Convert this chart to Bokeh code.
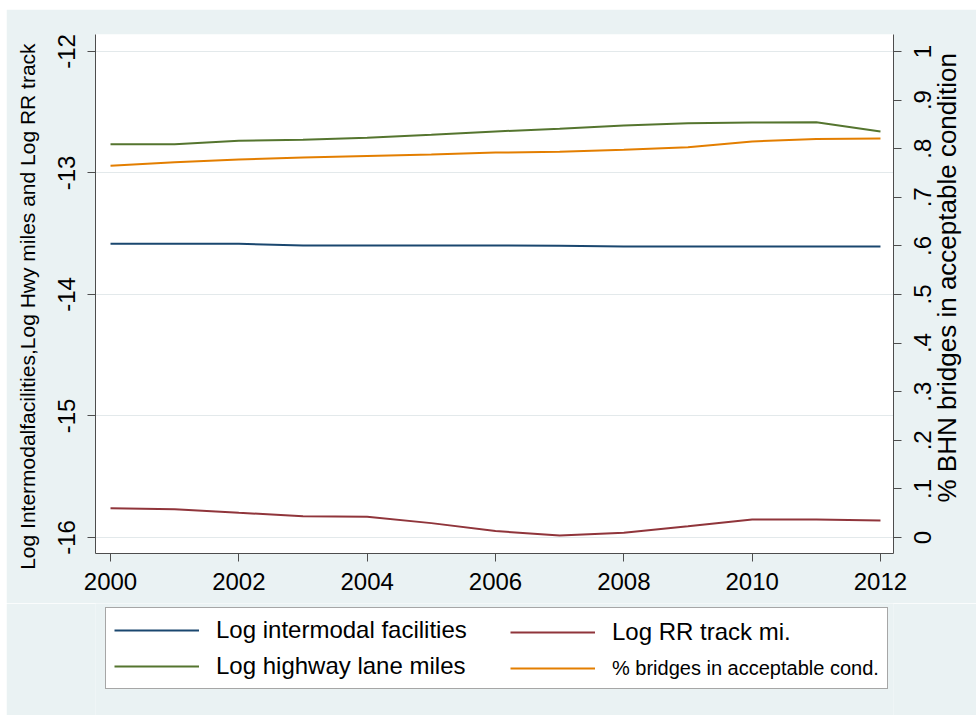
import math

from bokeh.embed import file_html
from bokeh.layouts import column, row
from bokeh.models import (CustomJSTickFormatter, FixedTicker, Legend, LegendItem,
                          LinearAxis, Range1d, Spacer)
from bokeh.plotting import figure
from bokeh.resources import INLINE

# Annual series, 2000-2012
years = [2000, 2001, 2002, 2003, 2004, 2005, 2006, 2007, 2008, 2009, 2010, 2011, 2012]
log_intermodal = [-13.583, -13.583, -13.583, -13.597, -13.597, -13.597, -13.597,
                  -13.598, -13.604, -13.604, -13.604, -13.604, -13.605]
log_rr_track = [-15.759, -15.767, -15.797, -15.825, -15.830, -15.882, -15.947,
                -15.984, -15.961, -15.907, -15.852, -15.852, -15.860]
log_highway = [-12.763, -12.763, -12.735, -12.727, -12.710, -12.686, -12.658,
               -12.636, -12.609, -12.590, -12.584, -12.583, -12.658]
pct_bridges = [0.765, 0.772, 0.778, 0.782, 0.785, 0.788, 0.792,
               0.794, 0.798, 0.803, 0.815, 0.820, 0.821]

# Axis ticks and labels
year_ticks = [2000, 2002, 2004, 2006, 2008, 2010, 2012]
left_ticks = [-16, -15, -14, -13, -12]
left_tick_labels = ["-16", "-15", "-14", "-13", "-12"]
right_ticks = [0, 0.1, 0.2, 0.3, 0.4, 0.5, 0.6, 0.7, 0.8, 0.9, 1]
right_tick_labels = ["0", ".1", ".2", ".3", ".4", ".5", ".6", ".7", ".8", ".9", "1"]
left_title = "Log Intermodalfacilities,Log Hwy miles and Log RR track"
right_title = "% BHN bridges in acceptable condition"

FONT = "Liberation Sans"
BG = "#EAF2F3"
AXIS_COLOR = "#4d4d4d"
NAVY = "#1A476F"
MAROON = "#90353B"
GREEN = "#55752F"
ORANGE = "#E37E00"

FRAME_W, FRAME_H = 798, 519
BORDER_L, BORDER_R = 89, 83
BRIDGE_LO, BRIDGE_HI = -0.0329, 1.035
TICK_FONT_PX = 24
LEFT_TITLE_CENTER = -14.10   # left-axis value at the middle of the left title
RIGHT_TITLE_START = 0.072    # bridges-axis value where the right title begins

p = figure(
    frame_width=FRAME_W, frame_height=FRAME_H,
    min_border_left=BORDER_L, min_border_right=BORDER_R,
    min_border_top=25, min_border_bottom=50,
    x_range=Range1d(1999.766, 2012.203),
    y_range=Range1d(-16.132, -11.860),
    output_backend="svg", toolbar_location=None,
    background_fill_color="white", border_fill_color=BG,
    outline_line_color=None,
)
p.extra_y_ranges = {"bridges": Range1d(BRIDGE_LO, BRIDGE_HI)}

r_inter = p.line(years, log_intermodal, line_color=NAVY, line_width=2)
r_rr = p.line(years, log_rr_track, line_color=MAROON, line_width=2)
r_hwy = p.line(years, log_highway, line_color=GREEN, line_width=2)
r_br = p.line(years, pct_bridges, y_range_name="bridges", line_color=ORANGE, line_width=2)

p.xgrid.grid_line_color = None
p.ygrid.grid_line_color = "#E3E9EB"
p.ygrid.grid_line_width = 1


def style_axis(ax, size=f"{TICK_FONT_PX}px"):
    ax.axis_line_color = AXIS_COLOR
    ax.axis_line_width = 1
    ax.major_tick_line_color = AXIS_COLOR
    ax.major_tick_out = 8
    ax.major_tick_in = 0
    ax.minor_tick_out = 0
    ax.minor_tick_in = 0
    ax.major_label_text_font = FONT
    ax.major_label_text_font_size = size
    ax.major_label_text_color = "black"


def text_axis(text, at, size, orientation, standoff, y_range_name="default"):
    """An axis with no line or ticks whose single label is a title."""
    ax = LinearAxis(y_range_name=y_range_name)
    style_axis(ax, size=size)
    ax.axis_line_color = None
    ax.major_tick_out = 0
    ax.ticker = FixedTicker(ticks=[at])
    ax.formatter = CustomJSTickFormatter(args=dict(text=text), code="return text")
    ax.major_label_orientation = orientation
    ax.major_label_standoff = standoff
    return ax


# bottom axis: years
xa = p.xaxis[0]
style_axis(xa)
xa.ticker = FixedTicker(ticks=year_ticks)
xa.major_label_standoff = 11

# left axis: logged quantities, labels read upward
ya = p.yaxis[0]
style_axis(ya)
ya.ticker = FixedTicker(ticks=left_ticks)
ya.major_label_overrides = dict(zip(left_ticks, left_tick_labels))
ya.major_label_orientation = "vertical"
ya.major_label_standoff = 12
p.add_layout(text_axis(left_title, LEFT_TITLE_CENTER, "21px", "vertical", 16), "left")

# right axis: share of bridges -- tick marks
yr_ticks = LinearAxis(y_range_name="bridges")
style_axis(yr_ticks, size="0px")
yr_ticks.ticker = FixedTicker(ticks=right_ticks)
yr_ticks.major_label_overrides = {t: "" for t in right_ticks}
yr_ticks.major_label_standoff = 0
p.add_layout(yr_ticks, "right")

# right axis labels read upward and start at their anchor, so each anchor sits
# half a label length below its tick to centre the text on the tick
px_per_unit = FRAME_H / (BRIDGE_HI - BRIDGE_LO)
char_em = {".": 0.278}
label_anchor = [
    t - sum(char_em.get(c, 0.556) for c in s) * TICK_FONT_PX / 2 / px_per_unit
    for t, s in zip(right_ticks, right_tick_labels)
]
yr_labels = LinearAxis(y_range_name="bridges")
style_axis(yr_labels)
yr_labels.axis_line_color = None
yr_labels.major_tick_out = 0
yr_labels.ticker = FixedTicker(ticks=label_anchor)
yr_labels.formatter = CustomJSTickFormatter(args=dict(labels=right_tick_labels),
                                            code="return labels[index]")
yr_labels.major_label_orientation = math.pi / 2
yr_labels.major_label_standoff = 21
p.add_layout(yr_labels, "right")
p.add_layout(text_axis(right_title, RIGHT_TITLE_START, "26px", math.pi / 2, 5,
                       y_range_name="bridges"), "right")

# legend strip below the plot; its key lines reuse the series, kept out of view
leg = figure(
    frame_width=FRAME_W, frame_height=112,
    min_border_left=BORDER_L, min_border_right=BORDER_R,
    min_border_top=0, min_border_bottom=0,
    x_axis_type=None, y_axis_type=None,
    x_range=Range1d(0, 1), y_range=Range1d(0, 1),
    output_backend="svg", toolbar_location=None,
    background_fill_color=BG, border_fill_color=BG,
    outline_line_color=None,
)
leg.grid.grid_line_color = None
k_inter = leg.line(years, log_intermodal, line_color=NAVY, line_width=2)
k_rr = leg.line(years, log_rr_track, line_color=MAROON, line_width=2)
k_hwy = leg.line(years, log_highway, line_color=GREEN, line_width=2)
k_br = leg.line(years, pct_bridges, line_color=ORANGE, line_width=2)

legend_common = dict(
    glyph_width=85, glyph_height=28, label_height=28,
    label_standoff=17, padding=8, spacing=8, margin=0,
    label_text_font=FONT, label_text_color="black",
    label_text_baseline="middle",
)
leg.add_layout(Legend(
    items=[LegendItem(label="Log intermodal facilities", renderers=[k_inter]),
           LegendItem(label="Log highway lane miles", renderers=[k_hwy])],
    location=(10, 26), label_width=663, label_text_font_size="24px",
    border_line_color=AXIS_COLOR, border_line_width=1,
    background_fill_color="white", background_fill_alpha=1.0,
    **legend_common))
leg.add_layout(Legend(
    items=[LegendItem(label="Log RR track mi.", renderers=[k_rr])],
    location=(407, 61), label_text_font_size="24px",
    border_line_alpha=0, background_fill_alpha=0, **legend_common))
leg.add_layout(Legend(
    items=[LegendItem(label="% bridges in acceptable cond.", renderers=[k_br])],
    location=(407, 25), label_text_font_size="20px",
    border_line_alpha=0, background_fill_alpha=0, **legend_common))

page = column(Spacer(width=976, height=9),
              row(Spacer(width=6, height=706), column(p, leg)))

with open("out.html", "w") as f:
    f.write(file_html(page, INLINE))
